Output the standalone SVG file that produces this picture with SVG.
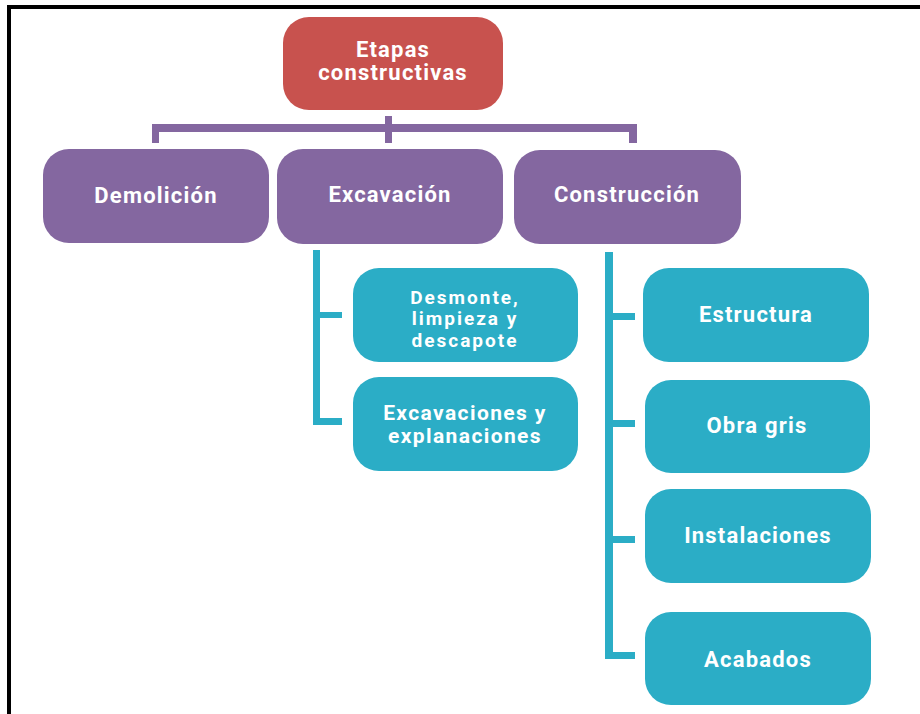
<svg xmlns="http://www.w3.org/2000/svg" width="920" height="714" viewBox="0 0 920 714">
<style>
.t{font-family:Roboto,"Liberation Sans",sans-serif;font-weight:700;font-size:22px;fill:#fff;text-anchor:middle;letter-spacing:1.2px}
.s19{font-size:19px;letter-spacing:2px}
.s21{font-size:21px;letter-spacing:1.4px}
.red{fill:#C8524E}
.pur{fill:#8467A0}
.teal{fill:#2BADC6}
.cp{fill:#8467A0}
.ct{fill:#2BADC6}
</style>
<rect width="920" height="714" fill="#fff"/>
<rect x="7" y="5" width="913" height="4" fill="#000"/>
<rect x="7" y="5" width="4" height="709" fill="#000"/>
<g id="connectors">
<rect class="cp" x="385" y="116" width="7" height="27"/>
<rect class="cp" x="152" y="124" width="485" height="8"/>
<rect class="cp" x="152" y="124" width="7" height="19"/>
<rect class="cp" x="629" y="124" width="8" height="19"/>
<rect class="ct" x="313" y="250" width="7" height="175"/>
<rect class="ct" x="313" y="312" width="29" height="6"/>
<rect class="ct" x="313" y="418" width="29" height="7"/>
<rect class="ct" x="605" y="252" width="8" height="407"/>
<rect class="ct" x="605" y="313" width="30" height="7"/>
<rect class="ct" x="605" y="420" width="30" height="7"/>
<rect class="ct" x="605" y="536" width="30" height="7"/>
<rect class="ct" x="605" y="652" width="30" height="7"/>
</g>
<g id="root"><rect class="red" x="283" y="17" width="220" height="93" rx="26"/><text class="t" x="393" y="57">Etapas</text><text class="t" x="393" y="80">constructivas</text></g>
<g id="demolicion"><rect class="pur" x="43" y="149" width="226" height="94" rx="26"/><text class="t" x="156" y="203">Demolición</text></g>
<g id="excavacion"><rect class="pur" x="277" y="149" width="226" height="95" rx="26"/><text class="t" x="390" y="202">Excavación</text></g>
<g id="construccion"><rect class="pur" x="514" y="150" width="227" height="94" rx="26"/><text class="t" x="627" y="202">Construcción</text></g>
<g id="desmonte"><rect class="teal" x="353" y="268" width="225" height="94" rx="26"/><text class="t s19" x="465" y="303.5">Desmonte,</text><text class="t s19" x="465" y="325">limpieza y</text><text class="t s19" x="465" y="346.5">descapote</text></g>
<g id="excavaciones"><rect class="teal" x="353" y="377" width="225" height="94" rx="26"/><text class="t s21" x="465" y="420">Excavaciones y</text><text class="t s21" x="465" y="443">explanaciones</text></g>
<g id="estructura"><rect class="teal" x="643" y="268" width="226" height="94" rx="26"/><text class="t" x="756" y="322">Estructura</text></g>
<g id="obragris"><rect class="teal" x="645" y="380" width="225" height="93" rx="26"/><text class="t" x="757" y="433">Obra gris</text></g>
<g id="instalaciones"><rect class="teal" x="645" y="489" width="226" height="94" rx="26"/><text class="t" x="758" y="543">Instalaciones</text></g>
<g id="acabados"><rect class="teal" x="645" y="612" width="226" height="93" rx="26"/><text class="t" x="758" y="667">Acabados</text></g>
</svg>
